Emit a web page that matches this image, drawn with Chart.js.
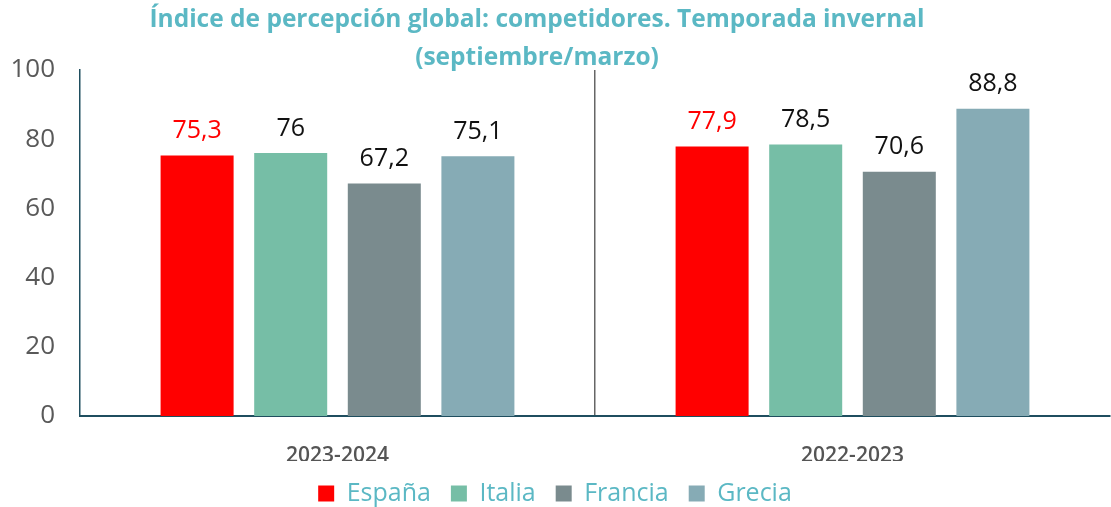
<!DOCTYPE html>
<html>
<head>
<meta charset="utf-8">
<script src="https://cdn.jsdelivr.net/npm/chart.js@4.4.1/dist/chart.umd.min.js"></script>
<style>
  html, body { margin: 0; padding: 0; background: #fff; }
  #wrap { width: 1111px; height: 507px; }
</style>
</head>
<body>
<div id="wrap"><canvas id="indexChart" width="1111" height="507"></canvas></div>
<script>
// data
var temporadas = ['2023-2024', '2022-2023'];
var espana = [75.3, 77.9];
var italia = [76, 78.5];
var francia = [67.2, 70.6];
var grecia = [75.1, 88.8];
var yTicks = [0, 20, 40, 60, 80, 100];
var tituloLineas = ['Índice de percepción global: competidores. Temporada invernal', '(septiembre/marzo)'];

var fontFam = "'Open Sans', 'Noto Sans', sans-serif";

// draw the value above each bar (comma decimals)
var valueLabels = {
  id: 'valueLabels',
  afterDatasetsDraw: function(chart) {
    let ctx = chart.ctx;
    ctx.save();
    ctx.font = '25px ' + fontFam;
    ctx.textAlign = 'center';
    ctx.textBaseline = 'bottom';
    chart.data.datasets.forEach(function(ds, i) {
      let meta = chart.getDatasetMeta(i);
      meta.data.forEach(function(bar, j) {
        ctx.fillStyle = ds.labelColor;
        let txt = String(ds.data[j]).replace('.', ',');
        ctx.fillText(txt, bar.x, bar.y - 12);
      });
    });
    ctx.restore();
  }
};

// title sits a bit left of the canvas centre in the original
var leftTitle = {
  id: 'leftTitle',
  afterDraw: function(chart) {
    let ctx = chart.ctx;
    ctx.save();
    ctx.font = 'bold 24.5px ' + fontFam;
    ctx.fillStyle = '#5bb8c4';
    ctx.textAlign = 'center';
    ctx.textBaseline = 'middle';
    ctx.fillText(tituloLineas[0], 537, 20);
    ctx.fillText(tituloLineas[1], 537, 58);
    ctx.restore();
  }
};

const ctx = document.getElementById('indexChart').getContext('2d');
var indexChart = new Chart(ctx, {
  type: 'bar',
  data: {
    labels: temporadas,
    datasets: [
      { label: 'España', data: espana, backgroundColor: '#ff0000', labelColor: '#ff0000' },
      { label: 'Italia', data: italia, backgroundColor: '#76bea6', labelColor: '#111' },
      { label: 'Francia', data: francia, backgroundColor: '#7a8b8e', labelColor: '#111' },
      { label: 'Grecia', data: grecia, backgroundColor: '#86abb5', labelColor: '#111' }
    ]
  },
  options: {
    responsive: false,
    animation: false,
    categoryPercentage: 0.727,
    barPercentage: 0.78,
    layout: { padding: { left: 0, right: 1, top: 70, bottom: -9 } },
    plugins: {
      title: { display: false },
      legend: {
        position: 'bottom',
        labels: {
          color: '#5bb8c4',
          font: { family: fontFam, size: 25 },
          boxWidth: 16,
          boxHeight: 16,
          padding: 20
        }
      },
      tooltip: { enabled: false }
    },
    scales: {
      x: {
        afterFit: function(axis) { axis.height = 45; },
        grid: {
          offset: true,
          color: function(c) { return c.index === 1 ? '#666666' : 'rgba(0,0,0,0)'; },
          lineWidth: 1.5,
          drawTicks: false
        },
        border: { color: '#1f4e5f', width: 2 },
        ticks: {
          color: '#555',
          font: { family: fontFam, size: 21, weight: '600' },
          padding: 27
        }
      },
      y: {
        min: 0,
        max: 100,
        afterFit: function(axis) { axis.width = 80; },
        afterBuildTicks: function(axis) {
          axis.ticks = yTicks.map(function(v) { return { value: v }; });
        },
        grid: { display: false, drawTicks: false },
        border: { color: '#1f4e5f', width: 1.5 },
        ticks: {
          color: '#595959',
          font: { family: fontFam, size: 26 },
          padding: 25
        }
      }
    }
  },
  plugins: [valueLabels, leftTitle]
});
</script>
</body>
</html>
